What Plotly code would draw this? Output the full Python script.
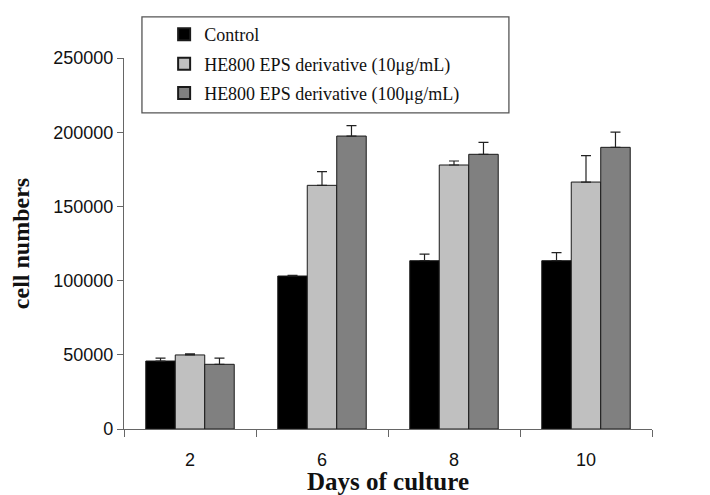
import plotly.graph_objects as go

days = ["2", "6", "8", "10"]
series_names = ["Control", "HE800 EPS derivative (10μg/mL)", "HE800 EPS derivative (100μg/mL)"]
control = [45800, 103100, 113400, 113400]
control_err = [2000, 500, 4500, 5400]
low_dose = [49900, 164200, 177900, 166400]
low_dose_err = [800, 9200, 2700, 17800]
high_dose = [43600, 197400, 185100, 189800]
high_dose_err = [4200, 7000, 8100, 10300]
y_ticks = [0, 50000, 100000, 150000, 200000, 250000]

colors = ["#000000", "#c0c0c0", "#808080"]
values = [control, low_dose, high_dose]
errors = [control_err, low_dose_err, high_dose_err]

fig = go.Figure()
for i, (name, vals, errs) in enumerate(zip(series_names, values, errors)):
    fig.add_trace(go.Bar(
        x=days, y=vals, name=name, legendgroup=f"g{i}",
        marker=dict(color=colors[i], line=dict(color="#1a1a1a", width=1)),
        error_y=dict(type="data", array=errs, arrayminus=[0]*len(errs), symmetric=False,
                     color="#222222", thickness=1.2, width=5),
    ))

fig.update_layout(
    width=702, height=487,
    margin=dict(l=116, r=58, t=50, b=66, autoexpand=False),
    paper_bgcolor="white", plot_bgcolor="white",
    barmode="group", bargap=0.33, bargroupgap=0,
    showlegend=True,
    legend=dict(x=0.076, y=1.113, xanchor="left", yanchor="top",
                bgcolor="rgba(0,0,0,0)", borderwidth=0,
                font=dict(family="Liberation Serif", size=18, color="#111111"),
                tracegroupgap=3, itemsizing="constant"),
    shapes=[dict(type="rect", xref="paper", yref="paper",
                 x0=0.034, x1=0.729, y0=0.852, y1=1.111,
                 line=dict(color="#555555", width=1.3), fillcolor="rgba(0,0,0,0)")],
)
fig.update_xaxes(
    type="category", range=[-0.5, 3.5], automargin=False,
    tickson="boundaries", ticks="outside", ticklen=7, tickcolor="#666666",
    showline=True, linecolor="#666666", linewidth=1.2, showgrid=False,
    ticklabelstandoff=14,
    tickfont=dict(family="Liberation Sans", size=18, color="#111111"),
    title=dict(text="<b>Days of culture</b>", standoff=9,
               font=dict(family="Liberation Serif", size=25, color="#111111")),
)
fig.update_yaxes(
    range=[0, 250000], tickvals=y_ticks, tickformat="d", automargin=False,
    ticks="outside", ticklen=6, tickcolor="#666666",
    showline=True, linecolor="#666666", linewidth=1.2, showgrid=False, zeroline=False,
    tickfont=dict(family="Liberation Sans", size=18, color="#111111"),
    title=dict(text="<b>cell numbers</b>", standoff=18,
               font=dict(family="Liberation Serif", size=24, color="#111111")),
)

fig.write_html("out.html")
